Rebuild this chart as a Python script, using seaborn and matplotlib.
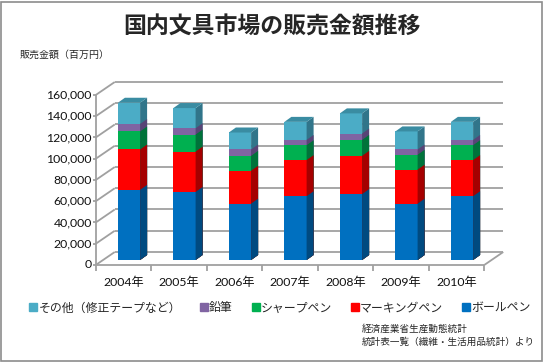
import numpy as np
import pandas as pd
import seaborn as sns
import matplotlib.pyplot as plt
from matplotlib.patches import Polygon, Rectangle
from matplotlib.lines import Line2D

# values (million yen)
years = ['2004年', '2005年', '2006年', '2007年', '2008年', '2009年', '2010年']
ballpen = [66000, 64000, 53000, 60000, 62000, 53000, 60000]
marking = [38000, 38000, 31000, 34000, 36000, 32000, 34000]
sharp = [17000, 16000, 14000, 14000, 15000, 14000, 14000]
pencil = [7000, 6000, 6000, 5000, 6000, 5000, 5000]
other = [20000, 19000, 16000, 17000, 19000, 17000, 17000]
series_names = ['ボールペン', 'マーキングペン', 'シャープペン', '鉛筆', 'その他（修正テープなど）']
yticks = np.arange(0, 160001, 20000)

front_colors = ['#0070C0', '#FF0000', '#00B050', '#8064A2', '#4BACC6']
side_colors = ['#004A80', '#A50000', '#00733A', '#584476', '#31758A']
top_color = '#3A8CA2'
grid_color = '#A0A0A0'

df = pd.DataFrame({'year': years, 'ボールペン': ballpen, 'マーキングペン': marking,
                   'シャープペン': sharp, '鉛筆': pencil, 'その他（修正テープなど）': other})
cum = df[series_names].cumsum(axis=1)

sns.set_style('white')
plt.rcParams['font.family'] = ['Lato', 'Noto Sans CJK JP']

W, H = 544, 362
fig = plt.figure(figsize=(W / 100, H / 100), dpi=100)
# axes = plane of the bar front faces
ax = fig.add_axes([101.25 / W, (H - 260) / H, 388.5 / W, 170 / H])

px_x = 1 / 55.5          # data x per pixel
px_y = 160000 / 170      # data y per pixel
fdx, fdy = -5.5 * px_x, -5 * px_y    # front plane offset
bdx, bdy = 13.5 * px_x, 8 * px_y     # back wall offset
ddx, ddy = 7 * px_x, 5 * px_y        # bar depth

lk = dict(color=grid_color, lw=1.3, clip_on=False, zorder=0, solid_capstyle='butt')
# back wall gridlines + diagonals + left axis
for v in yticks:
    ax.plot([-0.5 + bdx, 6.5 + bdx], [v + bdy, v + bdy], **lk)
    ax.plot([-0.5 + fdx, -0.5 + bdx], [v + fdy, v + bdy], **lk)
    ax.plot([-0.5 + fdx - 2.5 * px_x, -0.5 + fdx], [v + fdy, v + fdy], **lk)
    ax.text(-0.5 + fdx - 4 * px_x, v + fdy, f'{v:,}', ha='right', va='center',
            fontsize=8.8, color='#111111')
ax.plot([-0.5 + fdx, -0.5 + fdx], [fdy, 160000 + fdy], **lk)
ax.plot([-0.5 + fdx, 6.5 + fdx], [fdy, fdy], **lk)
ax.plot([6.5 + fdx, 6.5 + bdx], [fdy, bdy], **lk)
for k in range(8):
    ax.plot([k - 0.5 + fdx] * 2, [fdy, fdy - 5.5 * px_y], **lk)
for i, yr in enumerate(years):
    ax.text(i + fdx, -22 * px_y, yr, ha='center', va='center', fontsize=8.8, color='#111111')

# stacked 3D-looking bars, tallest first
for j in range(len(series_names) - 1, -1, -1):
    n_before = len(ax.patches)
    sns.barplot(x=df['year'], y=cum.iloc[:, j], color=front_colors[j], saturation=1,
                width=0.4, ax=ax, linewidth=0, zorder=1)
    for p in ax.patches[n_before:]:
        x0, x1 = p.get_x(), p.get_x() + p.get_width()
        y1 = p.get_height()
        ax.add_patch(Polygon([(x1, 0), (x1 + ddx, ddy), (x1 + ddx, y1 + ddy), (x1, y1)],
                             closed=True, fc=side_colors[j], ec='none', zorder=1, clip_on=False))
        if j == len(series_names) - 1:
            ax.add_patch(Polygon([(x0, y1), (x0 + ddx, y1 + ddy), (x1 + ddx, y1 + ddy), (x1, y1)],
                                 closed=True, fc=top_color, ec='none', zorder=1, clip_on=False))

ax.set_xlim(-0.5, 6.5)
ax.set_ylim(0, 160000)
ax.axis('off')

fig.text(0.5, 1 - 27 / H, '国内文具市場の販売金額推移', ha='center', va='center',
         fontsize=16.5, fontweight='bold', family=['Noto Sans CJK JP'])
fig.text(20 / W, 1 - 55 / H, '販売金額（百万円）', ha='left', va='center', fontsize=7.2,
         family=['Noto Sans CJK JP'])

handles = [Line2D([], [], marker='s', ls='none', color=front_colors[j], markersize=5.5)
           for j in range(len(series_names) - 1, -1, -1)]
fig.legend(handles, series_names[::-1], ncol=5, loc='center', bbox_to_anchor=(0.515, 1 - 308 / H),
           frameon=False, handlelength=0.6, handletextpad=0.15, columnspacing=1.6,
           prop={'family': ['Noto Sans CJK JP'], 'size': 8.6})

fig.text(362 / W, 1 - 329 / H, '経済産業省生産動態統計', ha='left', va='center', fontsize=6.9,
         family=['Noto Sans CJK JP'])
fig.text(362 / W, 1 - 342 / H, '統計表一覧（繊維・生活用品統計）より', ha='left', va='center',
         fontsize=6.9, family=['Noto Sans CJK JP'])

fig.patches.append(Rectangle((1 / W, 1 / H), (W - 3) / W, (H - 3) / H, transform=fig.transFigure,
                             fill=False, ec='#8C8C8C', lw=1.2))

fig.savefig('out.png', dpi=100)
